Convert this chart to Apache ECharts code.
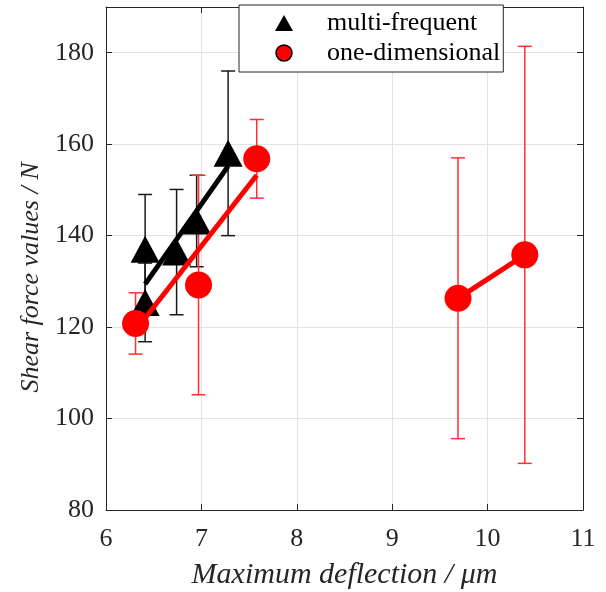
<!DOCTYPE html>
<html>
<head>
<meta charset="utf-8">
<script src="https://cdn.jsdelivr.net/npm/echarts@6/dist/echarts.min.js"></script>
<style>
  html, body { margin: 0; padding: 0; background: #fff; }
  #main { width: 606px; height: 592px; }
</style>
</head>
<body>
<div id="main"></div>
<script>
// multi-frequent (black triangles)
const mfX = [6.41, 6.41, 6.74, 6.95, 7.28];
const mfY = [125.4, 137.0, 136.4, 143.2, 158.0];
const mfErr = [8.6, 12.0, 13.7, 10.0, 18.0];
const mfFitX = [6.41, 7.28];
const mfFitY = [129.4, 155.2];

// one-dimensional (red circles)
const odX = [6.31, 6.97, 7.58, 9.69, 10.39];
const odY = [120.8, 129.2, 156.8, 126.3, 135.8];
const odErr = [6.7, 24.0, 8.6, 30.7, 45.6];
const odFitX = [6.31, 7.58];
const odFitY = [119.3, 153.2];
const odFit2X = [9.69, 10.39];
const odFit2Y = [126.3, 135.8];

const xTicks = [6, 7, 8, 9, 10, 11];
const yTicks = [80, 100, 120, 140, 160, 180];

const serif = "'Liberation Serif', 'DejaVu Serif', serif";
const axisColor = '#262626';

var myChart = echarts.init(document.getElementById('main'));

function errorBars(name, xs, ys, errs, color) {
  return {
    name: name,
    type: 'custom',
    silent: true,
    data: xs.map((x, i) => [x, ys[i] - errs[i], ys[i] + errs[i]]),
    encode: { x: 0, y: [1, 2] },
    renderItem: (params, api) => {
      const lo = api.coord([api.value(0), api.value(1)]);
      const hi = api.coord([api.value(0), api.value(2)]);
      const w = 7;
      const st = { stroke: color, lineWidth: 1.5 };
      return {
        type: 'group',
        children: [
          { type: 'line', shape: { x1: lo[0], y1: lo[1], x2: hi[0], y2: hi[1] }, style: st },
          { type: 'line', shape: { x1: lo[0] - w, y1: lo[1], x2: lo[0] + w, y2: lo[1] }, style: st },
          { type: 'line', shape: { x1: hi[0] - w, y1: hi[1], x2: hi[0] + w, y2: hi[1] }, style: st },
        ],
      };
    },
  };
}

function pairs(xs, ys) {
  return xs.map((x, i) => [x, ys[i]]);
}

function fitLine(name, xs, ys, color) {
  return {
    name: name,
    type: 'line',
    silent: true,
    data: pairs(xs, ys),
    showSymbol: false,
    lineStyle: { color: color, width: 5 },
  };
}

const xBase = {
  type: 'value',
  min: 6,
  max: 11,
  interval: 1,
  axisLine: { show: true, onZero: false, lineStyle: { color: axisColor, width: 1 } },
  axisTick: { show: true, inside: true, length: 6, lineStyle: { color: axisColor } },
};
const yBase = {
  type: 'value',
  min: 80,
  max: 190,
  interval: 20,
  axisLine: { show: true, onZero: false, lineStyle: { color: axisColor, width: 1 } },
  axisTick: { show: true, inside: true, length: 6, lineStyle: { color: axisColor } },
};

var option = {
  animation: false,
  backgroundColor: '#fff',
  grid: { left: 106, right: 23, top: 7, bottom: 82, containLabel: false, outerBoundsMode: 'none' },
  legend: {
    orient: 'vertical',
    left: 239,
    top: 5,
    padding: [5, 3, 6, 36],
    itemGap: 4,
    itemWidth: 18,
    itemHeight: 16,
    backgroundColor: '#fff',
    borderColor: axisColor,
    borderWidth: 1,
    selectedMode: false,
    textStyle: {
      fontFamily: serif,
      fontSize: 26,
      lineHeight: 26,
      color: '#000',
      padding: [0, 0, 0, 29],
    },
    data: [
      { name: 'multi-frequent', icon: 'triangle', itemStyle: { color: '#000' } },
      { name: 'one-dimensional', icon: 'circle', itemStyle: { color: '#ff0000', borderColor: '#000', borderWidth: 1.5 } },
    ],
  },
  xAxis: [
    Object.assign({}, xBase, {
      position: 'bottom',
      name: 'Maximum deflection / μm',
      nameLocation: 'middle',
      nameGap: 50,
      nameTextStyle: { fontFamily: serif, fontStyle: 'italic', fontSize: 30, color: axisColor },
      axisLabel: {
        margin: 16,
        fontFamily: serif,
        fontSize: 26,
        color: axisColor,
        formatter: (v) => (xTicks.includes(v) ? String(v) : ''),
      },
      splitLine: { show: true, lineStyle: { color: '#e3e3e3', width: 1 } },
    }),
    Object.assign({}, xBase, {
      position: 'top',
      axisLabel: { show: false },
      splitLine: { show: false },
    }),
  ],
  yAxis: [
    Object.assign({}, yBase, {
      position: 'left',
      name: 'Shear force values / N',
      nameLocation: 'middle',
      nameGap: 56,
      nameTextStyle: { fontFamily: serif, fontStyle: 'italic', fontSize: 26, color: axisColor, padding: [0, 38, 0, 0] },
      axisLabel: {
        margin: 12,
        fontFamily: serif,
        fontSize: 26,
        color: axisColor,
        showMaxLabel: false,
        formatter: (v) => (yTicks.includes(v) ? String(v) : ''),
      },
      splitLine: { show: true, lineStyle: { color: '#e3e3e3', width: 1 } },
    }),
    Object.assign({}, yBase, {
      position: 'right',
      axisLabel: { show: false },
      splitLine: { show: false },
    }),
  ],
  series: [
    errorBars('mf-err', mfX, mfY, mfErr, '#1a1a1a'),
    {
      name: 'multi-frequent',
      type: 'scatter',
      symbol: 'triangle',
      symbolSize: [29, 27],
      data: pairs(mfX, mfY),
      itemStyle: { color: '#000', opacity: 1 },
    },
    fitLine('mf-fit', mfFitX, mfFitY, '#000'),
    errorBars('od-err', odX, odY, odErr, '#ff3030'),
    {
      name: 'one-dimensional',
      type: 'scatter',
      symbol: 'circle',
      symbolSize: 27,
      data: pairs(odX, odY),
      itemStyle: { color: '#ff0000', opacity: 1 },
    },
    fitLine('od-fit', odFitX, odFitY, '#ff0000'),
    fitLine('od-fit2', odFit2X, odFit2Y, '#ff0000'),
  ],
};

myChart.setOption(option);
</script>
</body>
</html>
